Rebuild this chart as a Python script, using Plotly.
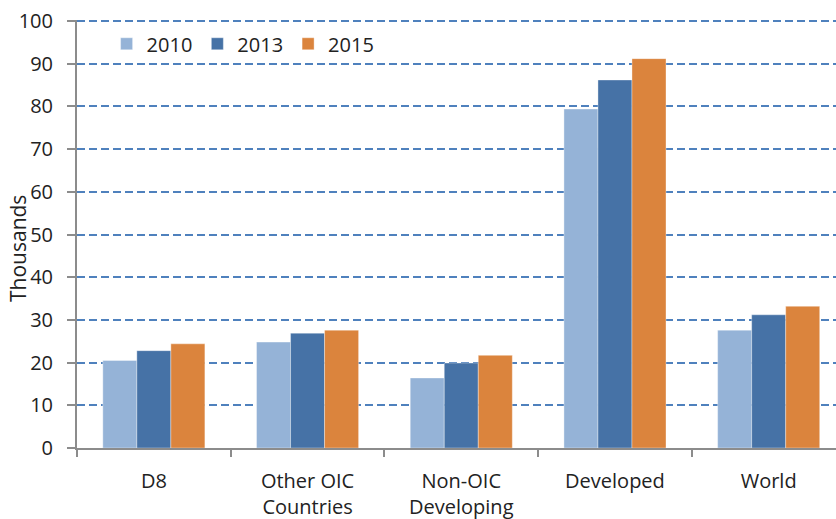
import plotly.graph_objects as go

categories = ["D8", "Other OIC<br>Countries", "Non-OIC<br>Developing", "Developed", "World"]
years = ["2010", "2013", "2015"]
v2010 = [20.5, 24.8, 16.4, 79.4, 27.6]
v2013 = [22.8, 26.9, 19.9, 86.2, 31.2]
v2015 = [24.4, 27.6, 21.7, 91.2, 33.2]
colors = ["#95B3D7", "#4672A6", "#DB843D"]
y_ticks = list(range(0, 101, 10))

FONT = "Open Sans"
TXT = "#222222"

fig = go.Figure()
for name, vals, col in zip(years, [v2010, v2013, v2015], colors):
    fig.add_trace(go.Bar(
        x=categories, y=vals, name=name,
        marker=dict(color=col, line=dict(color="rgba(255,255,255,0.6)", width=0.6)),
    ))

fig.update_layout(
    width=836, height=519,
    margin=dict(l=77, r=0, t=20, b=71, pad=0),
    paper_bgcolor="white", plot_bgcolor="white",
    barmode="group", bargap=0.336, bargroupgap=0,
    font=dict(family=FONT, size=20, color=TXT),
    legend=dict(
        orientation="h", x=0.039, y=0.99, xanchor="left", yanchor="top",
        font=dict(size=20, color=TXT), bgcolor="rgba(0,0,0,0)",
        itemwidth=30, traceorder="normal",
    ),
    showlegend=True,
    annotations=[dict(
        text="Thousands", textangle=-90, xref="paper", yref="paper",
        x=(18 - 77) / 759, y=(448 - 249) / 428, xanchor="center", yanchor="middle",
        showarrow=False, font=dict(size=21, color=TXT),
    )],
)

fig.update_xaxes(
    range=[-0.5, 4.438], automargin=False,
    showline=True, linecolor="#8C8C8C", linewidth=2,
    ticks="outside", tickson="boundaries", ticklen=7, tickcolor="#8C8C8C", tickwidth=2,
    ticklabelstandoff=14,
    showgrid=False, tickfont=dict(size=20, color=TXT),
)
fig.update_yaxes(
    range=[0, 100.25], tickvals=y_ticks, automargin=False,
    showline=True, linecolor="#8C8C8C", linewidth=2,
    ticks="outside", ticklen=8, tickcolor="#8C8C8C", tickwidth=2,
    ticklabelstandoff=10,
    showgrid=True, gridcolor="#4F81BD", gridwidth=1.7, griddash="8px,4px",
    zeroline=False,
    tickfont=dict(size=20, color=TXT),
)

fig.write_html("out.html", config={"displayModeBar": False},
               post_script="document.body.style.margin='0';")
